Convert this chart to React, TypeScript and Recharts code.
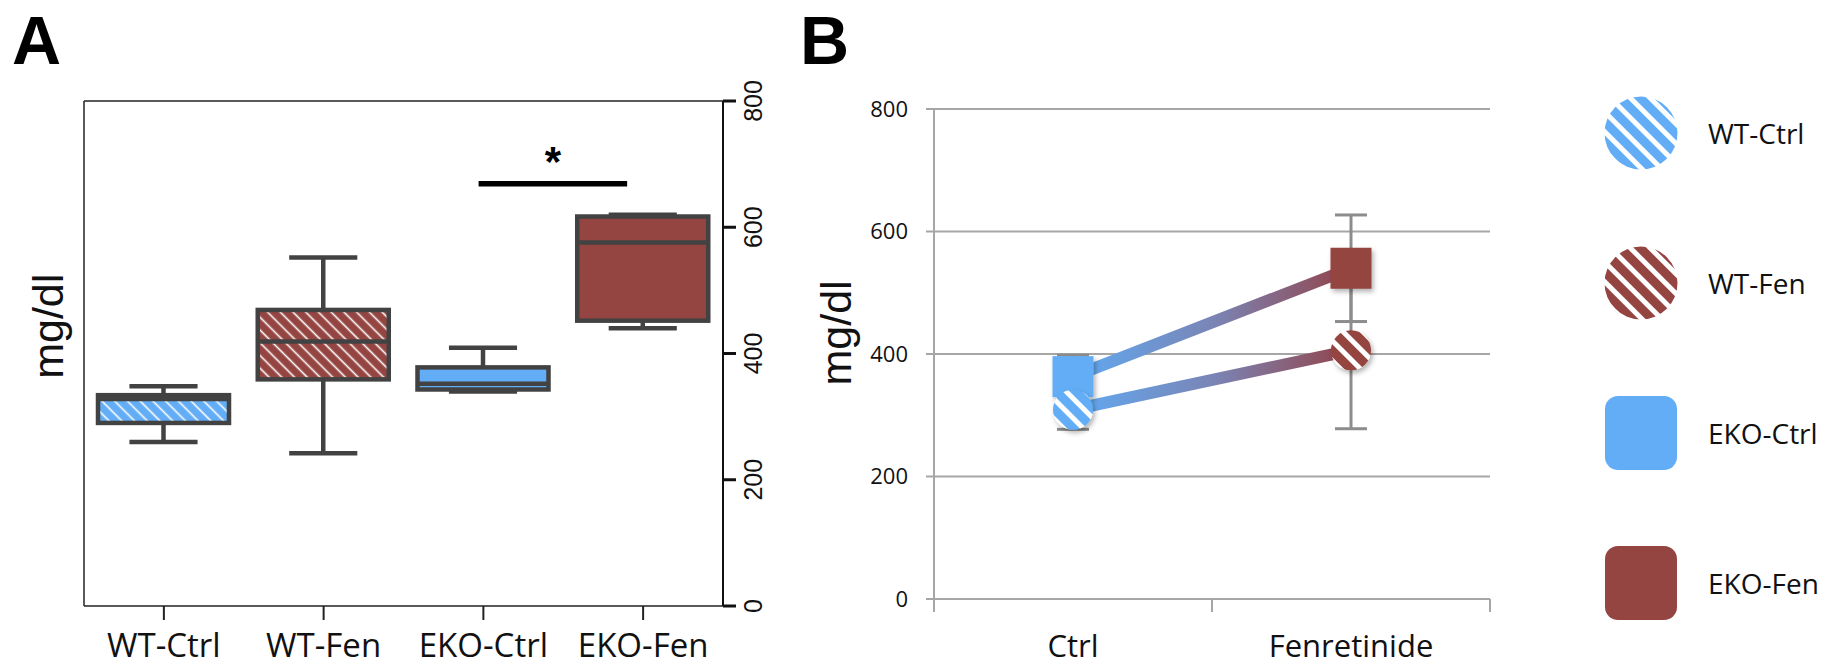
import React from "react";
import {
  ComposedChart, Bar, Line,
  XAxis, YAxis, CartesianGrid,
  ReferenceLine, ErrorBar, Legend,
} from "recharts";

// panel A: box plots, mg/dl
const GROUPS = ["WT-Ctrl", "WT-Fen", "EKO-Ctrl", "EKO-Fen"];
const WHISKER_LO = [260, 242, 340, 440];
const Q1 = [290, 359, 343, 452];
const MEDIANS = [328, 419, 352, 576];
const Q3 = [334, 469, 378, 617];
const WHISKER_HI = [348, 552, 409, 620];
// significance bracket (EKO-Ctrl vs EKO-Fen), x in group units 0..4
const SIG_FROM = 2.47;
const SIG_TO = 3.4;
const SIG_Y = 669;

// panel B: means +- error
const CONDITIONS = ["Ctrl", "Fenretinide"];
const COND_X = [0.5, 1.5];
const WT_MEAN = [309, 406];
const WT_ERR = [32, 128];
const EKO_MEAN = [363, 540];
const EKO_ERR = [35, 87];

const Y_TICKS = [0, 200, 400, 600, 800];

const BLUE = "#62adf5";
const RED = "#944541";
const BOX_LINE = "#424242";
const GRID = "#a6a6a6";
const SANS = "'Liberation Sans', Arial, sans-serif";
const OPEN = "'Open Sans', sans-serif";

const boxData = GROUPS.map((name, i) => ({
  name,
  pos: i + 0.5,
  box: [Q1[i], Q3[i]],
  q1: Q1[i], q3: Q3[i], med: MEDIANS[i], lo: WHISKER_LO[i], hi: WHISKER_HI[i],
}));
const BOX_FILLS = ["url(#hatchBlue)", "url(#hatchRed)", BLUE, RED];

const lineData = CONDITIONS.map((c, i) => ({
  x: COND_X[i], wt: WT_MEAN[i], wtErr: WT_ERR[i], eko: EKO_MEAN[i], ekoErr: EKO_ERR[i],
}));

function BoxShape(props: any) {
  const { x, y, width, height, payload, index } = props;
  const top = Math.min(y, y + height);
  const h = Math.abs(height);
  const py = (v: number) => top + ((payload.q3 - v) / (payload.q3 - payload.q1)) * h;
  const cx = x + width / 2;
  const cap = width * 0.26;
  const sw = 4.5;
  return (
    <g>
      <line x1={cx} x2={cx} y1={py(payload.hi)} y2={top} stroke={BOX_LINE} strokeWidth={sw} />
      <line x1={cx} x2={cx} y1={top + h} y2={py(payload.lo)} stroke={BOX_LINE} strokeWidth={sw} />
      <line x1={cx - cap} x2={cx + cap} y1={py(payload.hi)} y2={py(payload.hi)} stroke={BOX_LINE} strokeWidth={sw} />
      <line x1={cx - cap} x2={cx + cap} y1={py(payload.lo)} y2={py(payload.lo)} stroke={BOX_LINE} strokeWidth={sw} />
      <rect x={x} y={top} width={width} height={h} fill={BOX_FILLS[index]} stroke={BOX_LINE} strokeWidth={sw} />
      <line x1={x} x2={x + width} y1={py(payload.med)} y2={py(payload.med)} stroke={BOX_LINE} strokeWidth={sw} />
    </g>
  );
}

function RotTick({ x, y, payload }: any) {
  return (
    <text x={x} y={y} transform={`rotate(-90 ${x} ${y})`} textAnchor="middle"
      fontFamily={SANS} fontSize={25} fill="#111">{payload.value}</text>
  );
}

function AxisTitle({ viewBox, left, frac }: any) {
  const cx = viewBox.x + left;
  const cy = viewBox.y + viewBox.height * frac;
  return (
    <text x={cx} y={cy} dy="0.35em" transform={`rotate(-90 ${cx} ${cy})`} textAnchor="middle"
      fontFamily={SANS} fontSize={43} fill="#111">mg/dl</text>
  );
}

function CondTick({ x, y, payload }: any) {
  const i = COND_X.indexOf(payload.value);
  if (i >= 0) {
    return (
      <text x={x} y={y + 58} textAnchor="middle" fontFamily={OPEN} fontSize={31} fill="#111">
        {CONDITIONS[i]}
      </text>
    );
  }
  return <line x1={x} x2={x} y1={y} y2={y + 13} stroke={GRID} strokeWidth={2} />;
}

function PointMarker(props: any) {
  const { cx, cy, index, kind } = props;
  if (cx == null || cy == null) return null;
  if (kind === "circle") {
    return <circle cx={cx} cy={cy} r={20} fill={index === 0 ? "url(#stripeBlue)" : "url(#stripeRed)"} filter="url(#dropShadow)" />;
  }
  return <rect x={cx - 20.5} y={cy - 20.5} width={41} height={41} fill={index === 0 ? BLUE : RED} filter="url(#dropShadow)" />;
}

function LegendBox() {
  return (
    <div style={{ width: 250 }}>
      {GROUPS.map((name, i) => (
        <div key={name} style={{ height: 150, display: "flex", alignItems: "center" }}>
          <svg width={74} height={76} style={{ marginLeft: 27, flex: "none" }}>
            {i < 2
              ? <circle cx={37} cy={38} r={36.5} fill={i === 0 ? "url(#stripeBlue)" : "url(#stripeRed)"} />
              : <rect x={1} y={1} width={72} height={74} rx={13} fill={i === 2 ? BLUE : RED} />}
          </svg>
          <span style={{ marginLeft: 30, fontFamily: OPEN, fontSize: 28, color: "#111", whiteSpace: "nowrap" }}>{name}</span>
        </div>
      ))}
    </div>
  );
}

const letterStyle: React.CSSProperties = {
  position: "absolute", top: 6, fontFamily: SANS, fontWeight: 700, fontSize: 68, lineHeight: "68px", color: "#000",
};

export default function App() {
  return (
    <div style={{ position: "absolute", left: 0, top: 0, width: 1827, height: 668, background: "#fff", overflow: "hidden" }}>
      <div style={{ position: "absolute", left: 0, top: 0 }}>
        <ComposedChart width={790} height={668} data={boxData} margin={{ top: 71, right: 0, bottom: 0, left: 12 }}>
          <defs>
            <pattern id="hatchBlue" patternUnits="userSpaceOnUse" width="9" height="9" patternTransform="rotate(-45)">
              <rect width="9" height="9" fill={BLUE} />
              <line x1="4.5" y1="0" x2="4.5" y2="9" stroke="#fff" strokeWidth="1.6" />
            </pattern>
            <pattern id="hatchRed" patternUnits="userSpaceOnUse" width="9" height="9" patternTransform="rotate(-45)">
              <rect width="9" height="9" fill={RED} />
              <line x1="4.5" y1="0" x2="4.5" y2="9" stroke="#fff" strokeWidth="1.6" />
            </pattern>
          </defs>
          <XAxis xAxisId="cat" dataKey="name" height={62} interval={0}
            axisLine={{ stroke: "#222", strokeWidth: 1.5 }} tickLine={{ stroke: "#222", strokeWidth: 2 }}
            tickSize={14} tickMargin={14} tick={{ fontFamily: OPEN, fontSize: 33, fill: "#111" }} />
          <XAxis xAxisId="top" dataKey="name" orientation="top" height={30} tick={false} tickLine={false}
            axisLine={{ stroke: "#222", strokeWidth: 1.5 }} />
          <XAxis xAxisId="num" dataKey="pos" type="number" domain={[0, 4]} allowDataOverflow hide />
          <YAxis yAxisId="left" orientation="left" width={72} domain={[0, 800]} tick={false} tickLine={false}
            axisLine={{ stroke: "#222", strokeWidth: 1.5 }}
            label={<AxisTitle left={36} frac={0.446} />} />
          <YAxis yAxisId="val" orientation="right" width={67} domain={[0, 800]} ticks={Y_TICKS} interval={0}
            tickSize={13} tickMargin={26} tick={<RotTick />}
            axisLine={{ stroke: "#111", strokeWidth: 2 }} tickLine={{ stroke: "#111", strokeWidth: 3 }} />
          <Bar xAxisId="cat" yAxisId="val" dataKey="box" barSize={131} shape={<BoxShape />} isAnimationActive={false} />
          <ReferenceLine xAxisId="num" yAxisId="val" segment={[{ x: SIG_FROM, y: SIG_Y }, { x: SIG_TO, y: SIG_Y }]}
            stroke="#000" strokeWidth={5.5} ifOverflow="visible"
            label={{ value: "*", position: "top", offset: 8, fontFamily: SANS, fontSize: 42, fontWeight: 700, fill: "#000" }} />
        </ComposedChart>
      </div>

      <div style={{ position: "absolute", left: 790, top: 0 }}>
        <ComposedChart width={1037} height={668} data={lineData} margin={{ top: 109, right: 87, bottom: 0, left: 0 }}>
          <defs>
            <pattern id="stripeBlue" patternUnits="userSpaceOnUse" width="14" height="14" patternTransform="rotate(-45)">
              <rect width="14" height="14" fill={BLUE} />
              <rect x="0" width="5" height="14" fill="#fff" />
            </pattern>
            <pattern id="stripeRed" patternUnits="userSpaceOnUse" width="14" height="14" patternTransform="rotate(-45)">
              <rect width="14" height="14" fill={RED} />
              <rect x="0" width="5" height="14" fill="#fff" />
            </pattern>
            <linearGradient id="lineGrad" x1="0" y1="0" x2="1" y2="0">
              <stop offset="0%" stopColor="#60aaf2" />
              <stop offset="50%" stopColor="#7a85b6" />
              <stop offset="100%" stopColor="#934349" />
            </linearGradient>
            <filter id="dropShadow" x="-50%" y="-50%" width="200%" height="200%">
              <feDropShadow dx="2" dy="3" stdDeviation="2.5" floodColor="#000" floodOpacity="0.3" />
            </filter>
          </defs>
          <CartesianGrid vertical={false} stroke={GRID} strokeWidth={2} />
          <XAxis type="number" dataKey="x" domain={[0, 2]} ticks={[0, 0.5, 1, 1.5, 2]} interval={0}
            height={69} tickSize={0} tickMargin={0} tickLine={false}
            axisLine={{ stroke: GRID, strokeWidth: 2 }} tick={<CondTick />} />
          <YAxis domain={[0, 800]} ticks={Y_TICKS} interval={0} width={144} tickSize={8} tickMargin={18}
            axisLine={{ stroke: GRID, strokeWidth: 2 }} tickLine={{ stroke: GRID, strokeWidth: 2 }}
            tick={{ fontFamily: OPEN, fontSize: 22, fill: "#111" }}
            label={<AxisTitle left={46} frac={0.457} />} />
          <Legend layout="vertical" align="right" verticalAlign="top" content={<LegendBox />}
            wrapperStyle={{ top: 58, left: 787, width: 250 }} />
          <Line dataKey="eko" stroke="url(#lineGrad)" strokeWidth={12} dot={false} legendType="none" isAnimationActive={false}>
            <ErrorBar dataKey="ekoErr" width={16} stroke="#8c8c8c" strokeWidth={3} direction="y" />
          </Line>
          <Line dataKey="wt" stroke="url(#lineGrad)" strokeWidth={12} dot={false} legendType="none" isAnimationActive={false}>
            <ErrorBar dataKey="wtErr" width={16} stroke="#8c8c8c" strokeWidth={3} direction="y" />
          </Line>
          <Line dataKey="eko" stroke="none" dot={<PointMarker kind="square" />} activeDot={false} legendType="none" isAnimationActive={false} />
          <Line dataKey="wt" stroke="none" dot={<PointMarker kind="circle" />} activeDot={false} legendType="none" isAnimationActive={false} />
        </ComposedChart>
      </div>

      <div style={{ ...letterStyle, left: 12 }}>A</div>
      <div style={{ ...letterStyle, left: 800 }}>B</div>
    </div>
  );
}
